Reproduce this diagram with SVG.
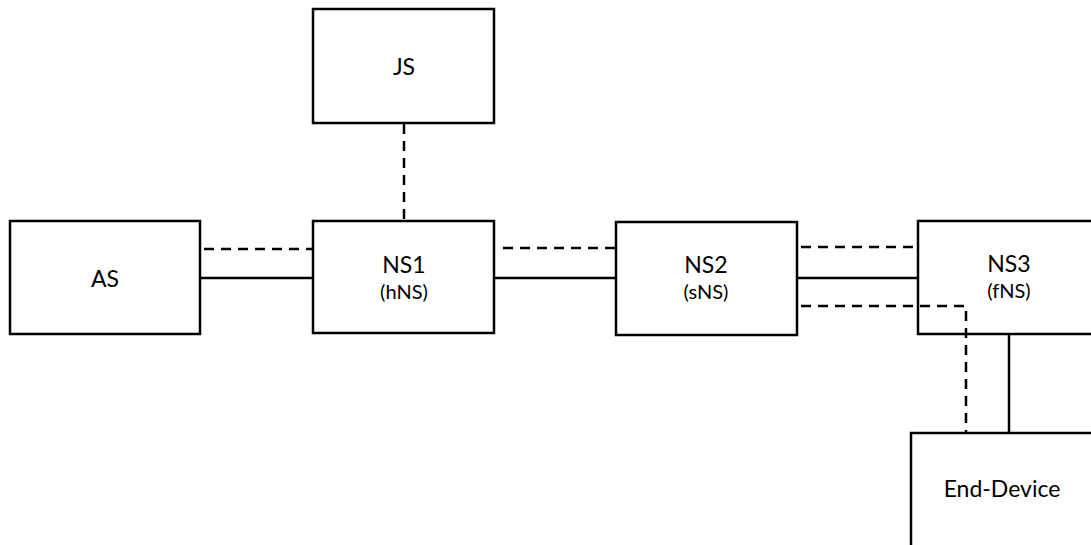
<svg xmlns="http://www.w3.org/2000/svg" width="1091" height="545" viewBox="0 0 1091 545">
<style>
.box{fill:#fff;stroke:#000;stroke-width:2.5}
.t{font-family:Lato,"Liberation Sans",sans-serif;font-size:23px;fill:#000;text-anchor:middle}
.s{font-family:Lato,"Liberation Sans",sans-serif;font-size:20px;fill:#000;text-anchor:middle}
.solid{stroke:#000;stroke-width:2.5;fill:none}
.dash{stroke:#000;stroke-width:2.5;fill:none;stroke-dasharray:10 7}
</style>
<rect width="1091" height="545" fill="#fff"/>
<g id="JS"><rect class="box" x="313" y="9" width="181" height="114"/><text class="t" x="404" y="75">JS</text></g>
<g id="AS"><rect class="box" x="10" y="221" width="190" height="113"/><text class="t" x="105" y="287">AS</text></g>
<g id="NS1"><rect class="box" x="313" y="221" width="181" height="112"/><text class="t" x="404" y="273">NS1</text><text class="s" x="404" y="299">(hNS)</text></g>
<g id="NS2"><rect class="box" x="616" y="222" width="181" height="113"/><text class="t" x="706" y="273">NS2</text><text class="s" x="706" y="299">(sNS)</text></g>
<g id="NS3"><rect class="box" x="918" y="221" width="185" height="113"/><text class="t" x="1009" y="272">NS3</text><text class="s" x="1009" y="298">(fNS)</text></g>
<g id="EndDevice"><rect class="box" x="911" y="433" width="190" height="125"/><text class="t" x="1002" y="497">End-Device</text></g>
<g id="connectors">
<line class="dash" x1="404" y1="124" x2="404" y2="221"/>
<line class="dash" x1="204" y1="249" x2="313" y2="249"/>
<line class="solid" x1="200" y1="278" x2="313" y2="278"/>
<line class="dash" x1="503" y1="248" x2="616" y2="248"/>
<line class="solid" x1="494" y1="278" x2="616" y2="278"/>
<line class="dash" x1="801" y1="247" x2="918" y2="247"/>
<line class="solid" x1="797" y1="278" x2="918" y2="278"/>
<path class="dash" d="M801 306 H966 V433"/>
<line class="solid" x1="1009" y1="334" x2="1009" y2="433"/>
</g>
</svg>
